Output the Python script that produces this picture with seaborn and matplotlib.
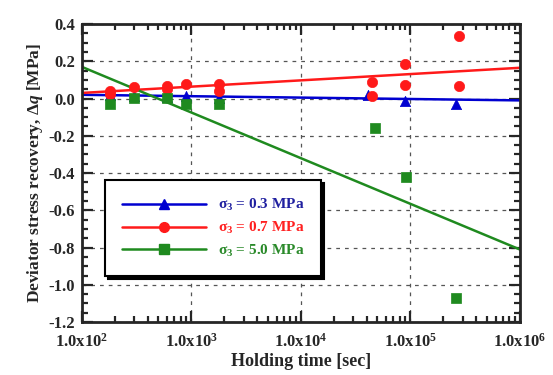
import numpy as np
import pandas as pd
import matplotlib
matplotlib.use("Agg")
import matplotlib.pyplot as plt
from matplotlib.lines import Line2D
from matplotlib.ticker import FuncFormatter, MultipleLocator, LogLocator, NullFormatter
import seaborn as sns

# ---------------- DATA ----------------
time_blue = [180, 300, 600, 900, 1800, 41000, 90000, 260000]
dq_blue = [0.02, 0.015, 0.01, 0.015, 0.005, 0.02, -0.015, -0.027]

time_red = [180, 180, 300, 600, 600, 900, 1800, 1800, 45000, 45000, 90000, 90000, 280000, 280000]
dq_red = [0.04, 0.025, 0.06, 0.065, 0.05, 0.08, 0.08, 0.04, 0.09, 0.015, 0.185, 0.07, 0.335, 0.065]

time_green = [180, 300, 600, 900, 1800, 48000, 92000, 260000]
dq_green = [-0.027, 0.005, 0.005, -0.027, -0.027, -0.16, -0.42, -1.07]

# fitted trend lines (end points)
fit_time = [1e2, 1e6]
fit_blue = [0.02, -0.01]
fit_red = [0.03, 0.165]
fit_green = [0.17, -0.81]

labels = [r"σ$_3$ = 0.3 MPa", r"σ$_3$ = 0.7 MPa", r"σ$_3$ = 5.0 MPa"]
colors = ["#0000d0", "#ff1a1a", "#1f8a1f"]
text_colors = ["#2020a0", "#ff2020", "#2a8a2a"]
markers = ["^", "o", "s"]

# ---------------- STYLE ----------------
sns.set_style("ticks")
plt.rcParams["font.family"] = ["Liberation Serif", "DejaVu Serif"]
plt.rcParams["font.weight"] = "bold"
plt.rcParams["mathtext.fontset"] = "custom"
plt.rcParams["mathtext.rm"] = "Liberation Serif:bold"
plt.rcParams["mathtext.it"] = "Liberation Serif:italic:bold"
plt.rcParams["mathtext.bf"] = "Liberation Serif:bold"
plt.rcParams["axes.unicode_minus"] = False

fig = plt.figure(figsize=(5.53, 3.75), dpi=100)
ax = fig.add_axes([0.148, 0.141, 0.792, 0.795])

# ---------------- PLOT ----------------
series = [
    (time_blue, dq_blue, fit_blue),
    (time_red, dq_red, fit_red),
    (time_green, dq_green, fit_green),
]
for (t, dq, fit), c, m in zip(series, colors, markers):
    sns.lineplot(x=fit_time, y=fit, color=c, lw=1.8, ax=ax, zorder=2)
for (t, dq, fit), c, m in zip(series, colors, markers):
    sns.scatterplot(x=t, y=dq, color=c, marker=m, s=55, edgecolor=c,
                    linewidth=0.5, ax=ax, zorder=3)

ax.set_xscale("log")
ax.set_xlim(1e2, 1e6)
ax.set_ylim(-1.2, 0.4)

ax.yaxis.set_major_locator(MultipleLocator(0.2))
ax.yaxis.set_minor_locator(MultipleLocator(0.05))
ax.yaxis.set_major_formatter(FuncFormatter(lambda v, p: f"{v:.1f}"))
ax.xaxis.set_major_locator(LogLocator(base=10, numticks=10))
ax.xaxis.set_minor_locator(LogLocator(base=10, subs=np.arange(2, 10), numticks=10))
ax.xaxis.set_minor_formatter(NullFormatter())
ax.xaxis.set_major_formatter(FuncFormatter(
    lambda v, p: "1.0x10$^{%d}$" % int(round(np.log10(v)))))

ax.tick_params(which="both", direction="in", top=True, right=True,
               labelsize=12, width=1.6)
ax.tick_params(axis="x", which="major", pad=8)
ax.tick_params(axis="y", which="major", pad=5)
ax.tick_params(which="major", length=8)
ax.tick_params(which="minor", length=4)
for s in ax.spines.values():
    s.set_linewidth(2)

ax.grid(True, which="major", ls=(0, (3, 4)), color="#555555", lw=0.9)

ax.set_xlabel("Holding time [sec]", fontsize=13, fontweight="bold", labelpad=1)
ax.set_ylabel(r"Deviator stress recovery, $\Delta q$ [MPa]", fontsize=12.5,
              fontweight="bold", labelpad=2)

# ---------------- LEGEND ----------------
handles = [Line2D([0], [0], color=c, marker=m, lw=1.8, markersize=7)
           for c, m in zip(colors, markers)]
leg = ax.legend(handles, labels, loc="lower left", bbox_to_anchor=(0.035, 0.13),
                handlelength=5.5, fontsize=11, frameon=True, fancybox=False,
                edgecolor="black", borderpad=1.1, labelspacing=0.45,
                shadow={"color": "black", "alpha": 1})
leg.get_frame().set_linewidth(1.5)
for txt, tc in zip(leg.get_texts(), text_colors):
    txt.set_color(tc)

fig.savefig("out.png", dpi=100)
